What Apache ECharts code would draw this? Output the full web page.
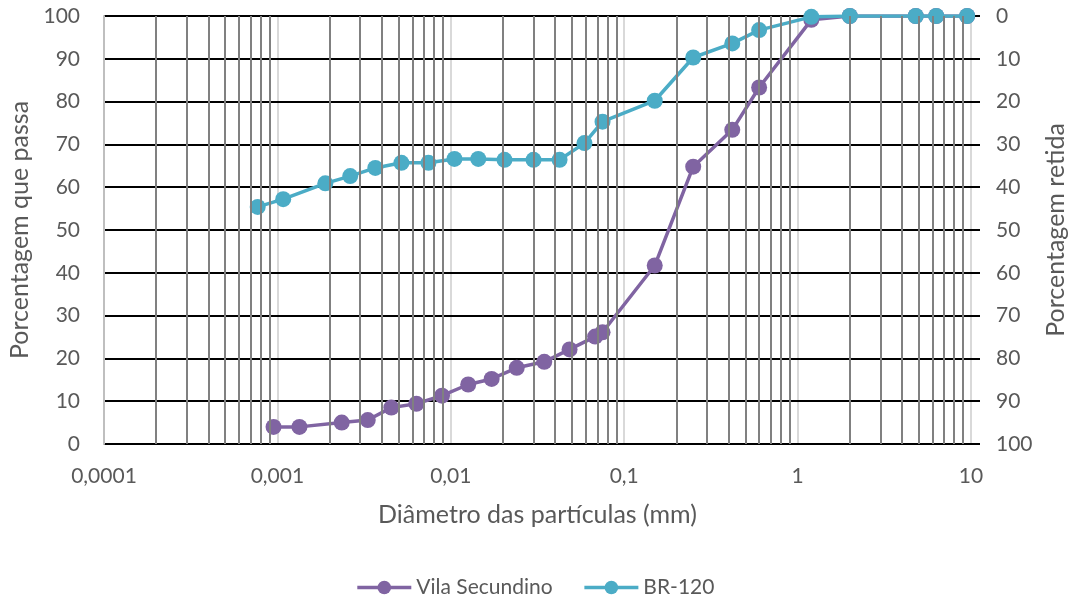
<!DOCTYPE html>
<html><head><meta charset="utf-8">
<script src="https://cdn.jsdelivr.net/npm/echarts@6/dist/echarts.min.js"></script>
<style>html,body{margin:0;padding:0;background:#fff}#c{width:1070px;height:598px}</style>
</head><body><div id="c"></div>
<script>
const vilaX = [0.00095, 0.00134, 0.00235, 0.00332, 0.00454, 0.00633, 0.0089, 0.0126, 0.0172, 0.024, 0.0346, 0.0484, 0.068, 0.075, 0.15, 0.25, 0.42, 0.6, 1.2, 2.0, 4.8, 6.3, 9.5];
const vilaY = [4.0, 4.0, 5.0, 5.6, 8.5, 9.4, 11.3, 13.9, 15.2, 17.8, 19.2, 22.1, 25.1, 26.1, 41.7, 64.8, 73.4, 83.3, 99.1, 100, 100, 100, 100];
const brX = [0.00077, 0.00108, 0.00189, 0.00263, 0.00367, 0.00519, 0.00743, 0.0105, 0.0144, 0.0204, 0.030, 0.0424, 0.059, 0.075, 0.15, 0.25, 0.42, 0.6, 1.2, 2.0, 4.8, 6.3, 9.5];
const brY = [55.4, 57.2, 60.9, 62.6, 64.5, 65.7, 65.7, 66.6, 66.6, 66.4, 66.4, 66.4, 70.3, 75.3, 80.2, 90.3, 93.6, 96.7, 99.8, 100, 100, 100, 100];
const seriesNames = ['Vila Secundino', 'BR-120'];
const xTitle = 'Diâmetro das partículas (mm)';
const yLeftTitle = 'Porcentagem que passa';
const yRightTitle = 'Porcentagem retida';

const minorLines = [];
for (let d = -4; d <= 0; d++) for (let k = 2; k <= 9; k++) minorLines.push({xAxis: k * Math.pow(10, d)});

const FONT = 'Lato';
const TICK = 21, TITLE = 25;
const chart = echarts.init(document.getElementById('c'));
chart.setOption({
  animation: false,
  textStyle: {fontFamily: FONT},
  grid: {left: 104, right: 99, top: 16, bottom: 154, containLabel: false, outerBoundsMode: 'none'},
  legend: {data: seriesNames, top: 572, left: 'center', itemWidth: 54, itemHeight: 17, itemGap: 30,
    lineStyle: {width: 3.5},
    textStyle: {fontFamily: FONT, fontSize: TICK, color: '#595959'}},
  xAxis: {type: 'log', logBase: 10, min: 0.0001, max: 10,
    name: xTitle, nameLocation: 'middle', nameGap: 58,
    nameTextStyle: {fontFamily: FONT, fontSize: TITLE, color: '#595959'},
    axisLine: {show: true, lineStyle: {color: '#bfbfbf', width: 2}},
    axisTick: {show: false}, minorTick: {show: false},
    splitLine: {show: true, lineStyle: {color: '#d9d9d9', width: 2}},
    axisLabel: {margin: 22, fontSize: TICK, color: '#595959', fontFamily: FONT,
      formatter: v => String(v).replace('.', ',')}},
  yAxis: [
    {type: 'value', min: 0, max: 100, interval: 10, z: 1.5,
      name: yLeftTitle, nameLocation: 'middle', nameGap: 70, nameRotate: 90,
      nameTextStyle: {fontFamily: FONT, fontSize: TITLE, color: '#595959'},
      axisLine: {show: true, lineStyle: {color: '#bfbfbf', width: 2}},
      axisTick: {show: false},
      splitLine: {show: true, lineStyle: {color: '#000', width: 2}},
      axisLabel: {margin: 24, fontSize: TICK, color: '#595959', fontFamily: FONT}},
    {type: 'value', min: 0, max: 100, interval: 10, inverse: true, position: 'right', z: 1.5,
      name: yRightTitle, nameLocation: 'middle', nameGap: 72, nameRotate: 90,
      nameTextStyle: {fontFamily: FONT, fontSize: TITLE, color: '#595959'},
      axisLine: {show: false},
      axisTick: {show: true, inside: false, length: 9, lineStyle: {color: '#000', width: 2}},
      splitLine: {show: false},
      axisLabel: {margin: 25, fontSize: TICK, color: '#595959', fontFamily: FONT}}
  ],
  series: [
    {name: 'grid-minor', type: 'line', data: [], z: 1, silent: true,
      markLine: {silent: true, symbol: 'none', precision: 10, label: {show: false},
        lineStyle: {color: '#808080', width: 2, type: 'solid'}, data: minorLines}},
    {name: seriesNames[0], type: 'line', z: 3, data: vilaX.map((x, i) => [x, vilaY[i]]),
      symbol: 'circle', symbolSize: 16, itemStyle: {color: '#8064a2'},
      lineStyle: {color: '#8064a2', width: 3.5}},
    {name: seriesNames[1], type: 'line', z: 4, data: brX.map((x, i) => [x, brY[i]]),
      symbol: 'circle', symbolSize: 16, itemStyle: {color: '#4bacc6'},
      lineStyle: {color: '#4bacc6', width: 3.5}}
  ]
});
</script></body></html>
